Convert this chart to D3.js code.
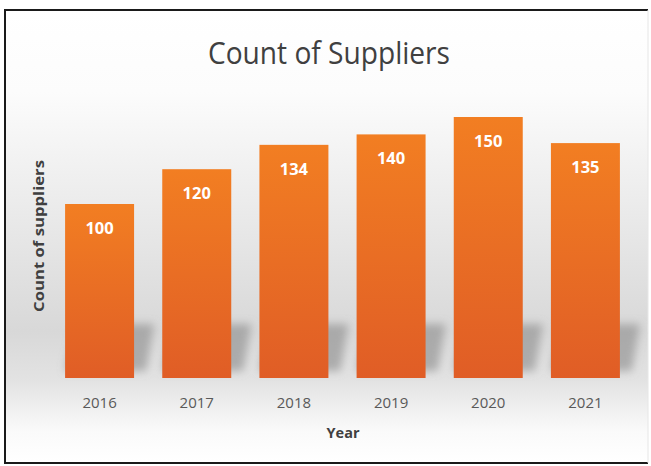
<!DOCTYPE html>
<html><head><meta charset="utf-8">
<script src="https://cdn.jsdelivr.net/npm/d3@7"></script>
<style>body{margin:0;background:#fff}svg{display:block}</style>
</head><body>
<svg id="c" width="651" height="466"></svg>
<script>
const years = ["2016","2017","2018","2019","2020","2021"];
const suppliers = [100,120,134,140,150,135];
const chartTitle = "Count of Suppliers";
const xTitle = "Year";
const yTitle = "Count of suppliers";

const svg = d3.select("#c");
const defs = svg.append("defs");

const bg = defs.append("linearGradient").attr("id","bg").attr("x1",0).attr("y1",0).attr("x2",0).attr("y2",1);
[[0,"#ffffff"],[0.18,"#fcfcfc"],[0.42,"#ececec"],[0.71,"#d8d8d8"],[0.82,"#e3e3e3"],[0.93,"#fafafa"],[1,"#ffffff"]]
  .forEach(([o,c])=>bg.append("stop").attr("offset",o).attr("stop-color",c));

const bar = defs.append("linearGradient").attr("id","bar").attr("x1",0).attr("y1",0).attr("x2",0).attr("y2",1);
bar.append("stop").attr("offset",0).attr("stop-color","#f27e22");
bar.append("stop").attr("offset",1).attr("stop-color","#e05d26");

const blur = defs.append("filter").attr("id","blur").attr("x","-50%").attr("y","-50%").attr("width","200%").attr("height","200%");
blur.append("feGaussianBlur").attr("stdDeviation",4.5);

// panel
svg.append("rect").attr("x",5).attr("y",10).attr("width",643).attr("height",453).attr("fill","url(#bg)");
svg.append("path").attr("d","M648,10 H5 V463 H648").attr("fill","none").attr("stroke","#1a1a1a").attr("stroke-width",2);
svg.append("line").attr("x1",648).attr("x2",648).attr("y1",10).attr("y2",463).attr("stroke","#e6e6e6").attr("stroke-width",1);

const x = d3.scaleBand().domain(years).range([51,634]).paddingInner(0.29).paddingOuter(0.145);
const y = d3.scaleLinear().domain([0,150]).range([378,117]);

// shadows
const sh = svg.append("g").attr("filter","url(#blur)");
sh.selectAll("path").data(years).join("path")
  .attr("d",(d)=>{
    const x0 = x(d), x1 = x(d)+x.bandwidth();
    return `M${x0+10},${y(31)} L${x1+20},${y(31)} L${x1+12},${y(4)} L${x0},${y(4)} Z`;
  })
  .attr("fill","#8a8a8a").attr("opacity",0.6);

// bars
svg.selectAll("rect.bar").data(years).join("rect").attr("class","bar")
  .attr("x",d=>x(d)).attr("width",x.bandwidth())
  .attr("y",(d,i)=>y(suppliers[i])).attr("height",(d,i)=>y(0)-y(suppliers[i]))
  .attr("fill","url(#bar)");

// value labels
svg.selectAll("text.val").data(years).join("text").attr("class","val")
  .attr("x",d=>x(d)+x.bandwidth()/2).attr("y",(d,i)=>y(suppliers[i])+30)
  .attr("text-anchor","middle").attr("fill","#ffffff")
  .attr("font-family","'Open Sans', sans-serif").attr("font-weight","bold").attr("font-size",16.5)
  .text((d,i)=>suppliers[i]);

// x axis
const xa = svg.append("g").attr("transform","translate(0,378)").call(d3.axisBottom(x).tickSize(0).tickPadding(19));
xa.select(".domain").remove();
xa.selectAll("text").attr("font-family","'Open Sans', sans-serif").attr("font-size",15).attr("fill","#595959");

// titles
svg.append("text").attr("x",329).attr("y",64).attr("text-anchor","middle")
  .attr("font-family","'Open Sans', sans-serif").attr("font-size",31).attr("fill","#404040")
  .attr("textLength",242).attr("lengthAdjust","spacingAndGlyphs").text(chartTitle);
svg.append("text").attr("x",343).attr("y",438).attr("text-anchor","middle")
  .attr("font-family","'Open Sans', sans-serif").attr("font-weight","bold").attr("font-size",14.5).attr("fill","#404040")
  .text(xTitle);
svg.append("text").attr("transform","translate(44,236) rotate(-90)").attr("text-anchor","middle")
  .attr("font-family","'Open Sans', sans-serif").attr("font-weight","bold").attr("font-size",14.5).attr("fill","#404040")
  .attr("textLength",152).attr("lengthAdjust","spacingAndGlyphs")
  .text(yTitle);
</script>
</body></html>
